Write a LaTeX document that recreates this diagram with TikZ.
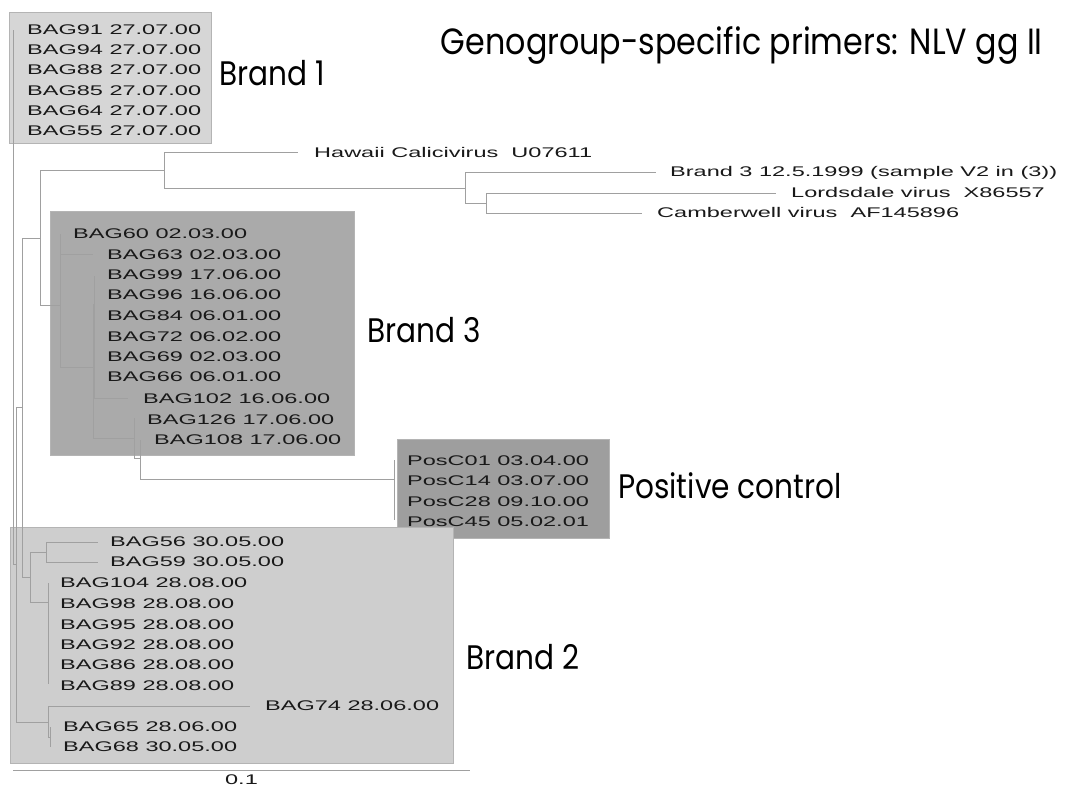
\documentclass[tikz,border=0pt]{standalone}
\usepackage{fontspec}
\usepackage{tikz}
\usetikzlibrary{positioning,calc}
\newfontfamily\leaffont[FakeStretch=1.68]{Liberation Sans}
\newfontfamily\gothicfont[FakeStretch=0.87]{Poppins}
\definecolor{branchgray}{RGB}{160,160,160}
\definecolor{boxedge}{RGB}{180,180,180}
\definecolor{leafink}{RGB}{25,25,25}
\definecolor{brandonefill}{RGB}{214,214,214}
\definecolor{brandthreefill}{RGB}{170,170,170}
\definecolor{posfill}{RGB}{158,158,158}
\definecolor{brandtwofill}{RGB}{206,206,206}

\begin{document}
\begin{tikzpicture}[x=1pt,y=-1pt,
  branch/.style={draw=branchgray,line width=0.8pt},
  leaf/.style={anchor=base west,inner sep=0pt,text=leafink,font=\leaffont\fontsize{14}{14}\selectfont},
  cladebox/.style={draw=boxedge,line width=0.5pt},
  cladename/.style={anchor=west,inner sep=0pt,font=\gothicfont\fontsize{34}{34}\selectfont}]
\useasboundingbox[fill=white] (0,0) rectangle (1066,786);

% shaded groups
\path[cladebox,fill=brandonefill] (9,12) rectangle (211,143);
\path[cladebox,fill=brandthreefill] (50,211) rectangle (354,455);
\path[cladebox,fill=posfill] (397,439) rectangle (609,538);
\path[cladebox,fill=brandtwofill] (10,527) rectangle (453,763);

% internal nodes and branch ends
\coordinate (root) at (13,297);
\coordinate (b1top) at (13,30);
\coordinate (n16) at (16,564.5);
\coordinate (n22) at (22,407);
\coordinate (n40) at (40,238);
\coordinate (nhw) at (164,170);
\coordinate (hwend) at (298,152);
\coordinate (nnlv) at (465,188);
\coordinate (v2end) at (656,172);
\coordinate (nlc) at (486,203);
\coordinate (lordend) at (776,193);
\coordinate (cambend) at (642,213);
\coordinate (nb3) at (60,305);
\coordinate (e60) at (60,234);
\coordinate (e63) at (93,254);
\coordinate (nbb) at (93,367);
\coordinate (nba) at (94,304);
\coordinate (e99) at (94,276);
\coordinate (e102) at (128,398);
\coordinate (nbc) at (134,438);
\coordinate (e126) at (134,418);
\coordinate (nbd) at (140,458);
\coordinate (e108) at (140,440);
\coordinate (npc) at (394,479);
\coordinate (pctop) at (394,460);
\coordinate (pcbot) at (394,520);
\coordinate (n30) at (30,577);
\coordinate (n46) at (46,552);
\coordinate (e56) at (98,542);
\coordinate (e59) at (98,562);
\coordinate (n48) at (48,602);
\coordinate (e104) at (48,583);
\coordinate (e89) at (48,684);
\coordinate (n48b) at (48,722);
\coordinate (e74) at (250,706);
\coordinate (n50) at (50,737);
\coordinate (e65) at (50,727);
\coordinate (e68) at (50,747);

% tree
\draw[branch] (root) |- (b1top);
\draw[branch] (root) |- (n16);
\draw[branch] (n16) |- (n22);
\draw[branch] (n16) |- (n48b);
\draw[branch] (n22) |- (n40);
\draw[branch] (n22) |- (n30);
\draw[branch] (n40) |- (nhw);
\draw[branch] (n40) |- (nb3);
\draw[branch] (nhw) |- (hwend);
\draw[branch] (nhw) |- (nnlv);
\draw[branch] (nnlv) |- (v2end);
\draw[branch] (nnlv) |- (nlc);
\draw[branch] (nlc) |- (lordend);
\draw[branch] (nlc) |- (cambend);
\draw[branch] (nb3) |- (e60);
\draw[branch] (nb3) |- (e63);
\draw[branch] (nb3) |- (nbb);
\draw[branch] (nbb) |- (nba);
\draw[branch] (nbb) |- (nbc);
\draw[branch] (nba) |- (e99);
\draw[branch] (nba) |- (e102);
\draw[branch] (nbc) |- (e126);
\draw[branch] (nbc) |- (nbd);
\draw[branch] (nbd) |- (e108);
\draw[branch] (nbd) |- (npc);
\draw[branch] (npc) |- (pctop);
\draw[branch] (npc) |- (pcbot);
\draw[branch] (n30) |- (n46);
\draw[branch] (n30) |- (n48);
\draw[branch] (n46) |- (e56);
\draw[branch] (n46) |- (e59);
\draw[branch] (n48) |- (e104);
\draw[branch] (n48) |- (e89);
\draw[branch] (n48b) |- (e74);
\draw[branch] (n48b) |- (n50);
\draw[branch] (n50) |- (e65);
\draw[branch] (n50) |- (e68);

% leaves
\foreach \tag [count=\i from 0] in {91,94,88,85,64,55}
  \node[leaf] (bag\tag) at (27,{34.5+20.2*\i}) {BAG\tag\ 27.07.00};
\node[leaf] (hawaii) at (314,157.2) {Hawaii Calicivirus\ \ U07611};
\node[leaf] (vtwo) at (670,177) {Brand 3 12.5.1999 (sample V2 in (3))};
\node[leaf] (lords) at (791,198) {Lordsdale virus\ \ X86557};
\node[leaf] (camber) at (657,218) {Camberwell virus\ \ AF145896};
\node[leaf] (bag60) at (73,239) {BAG60 02.03.00};
\node[leaf] (bag63) at (107,259.3) {BAG63 02.03.00};
\node[leaf] (bag99) at (107,279.3) {BAG99 17.06.00};
\node[leaf] (bag96) at (107,300) {BAG96 16.06.00};
\node[leaf] (bag84) at (107,321) {BAG84 06.01.00};
\node[leaf] (bag72) at (107,341.5) {BAG72 06.02.00};
\node[leaf] (bag69) at (107,361.7) {BAG69 02.03.00};
\node[leaf] (bag66) at (107,381.7) {BAG66 06.01.00};
\node[leaf] (bag102) at (143,403) {BAG102 16.06.00};
\node[leaf] (bag126) at (147,424) {BAG126 17.06.00};
\node[leaf] (bag108) at (154,444) {BAG108 17.06.00};
\node[leaf] (pos01) at (407,465) {PosC01 03.04.00};
\node[leaf] (pos14) at (407,485.7) {PosC14 03.07.00};
\node[leaf] (pos28) at (407,506) {PosC28 09.10.00};
\node[leaf] (pos45) at (407,526) {PosC45 05.02.01};
\node[leaf] (bag56) at (110,546.7) {BAG56 30.05.00};
\node[leaf] (bag59) at (110,566.7) {BAG59 30.05.00};
\node[leaf] (bag104) at (60,587.7) {BAG104 28.08.00};
\node[leaf] (bag98) at (60,608.3) {BAG98 28.08.00};
\node[leaf] (bag95) at (60,629) {BAG95 28.08.00};
\node[leaf] (bag92) at (60,649) {BAG92 28.08.00};
\node[leaf] (bag86) at (60,669.3) {BAG86 28.08.00};
\node[leaf] (bag89) at (60,690) {BAG89 28.08.00};
\node[leaf] (bag74) at (265,710.7) {BAG74 28.06.00};
\node[leaf] (bag65) at (63,731.7) {BAG65 28.06.00};
\node[leaf] (bag68) at (63,751.7) {BAG68 30.05.00};

% group names
\node[cladename] (brandone) at (219,73.5) {Brand 1};
\node[cladename] (brandthree) at (367,330) {Brand 3};
\node[cladename] (poscontrol) at (618,486) {Positive control};
\node[cladename] (brandtwo) at (466,657) {Brand 2};
\node[cladename,anchor=east,font=\gothicfont\fontsize{36.5}{36.5}\selectfont] (title) at (1043,45) {Genogroup-specific primers: NLV gg II};

% scale bar
\coordinate (barl) at (13,770);
\coordinate (barr) at (470,770);
\draw[branch] (barl) -- (barr);
\node[leaf,anchor=north] (barlabel) at ($(barl)!0.5!(barr)+(0,4.5)$) {0.1};
\end{tikzpicture}
\end{document}
